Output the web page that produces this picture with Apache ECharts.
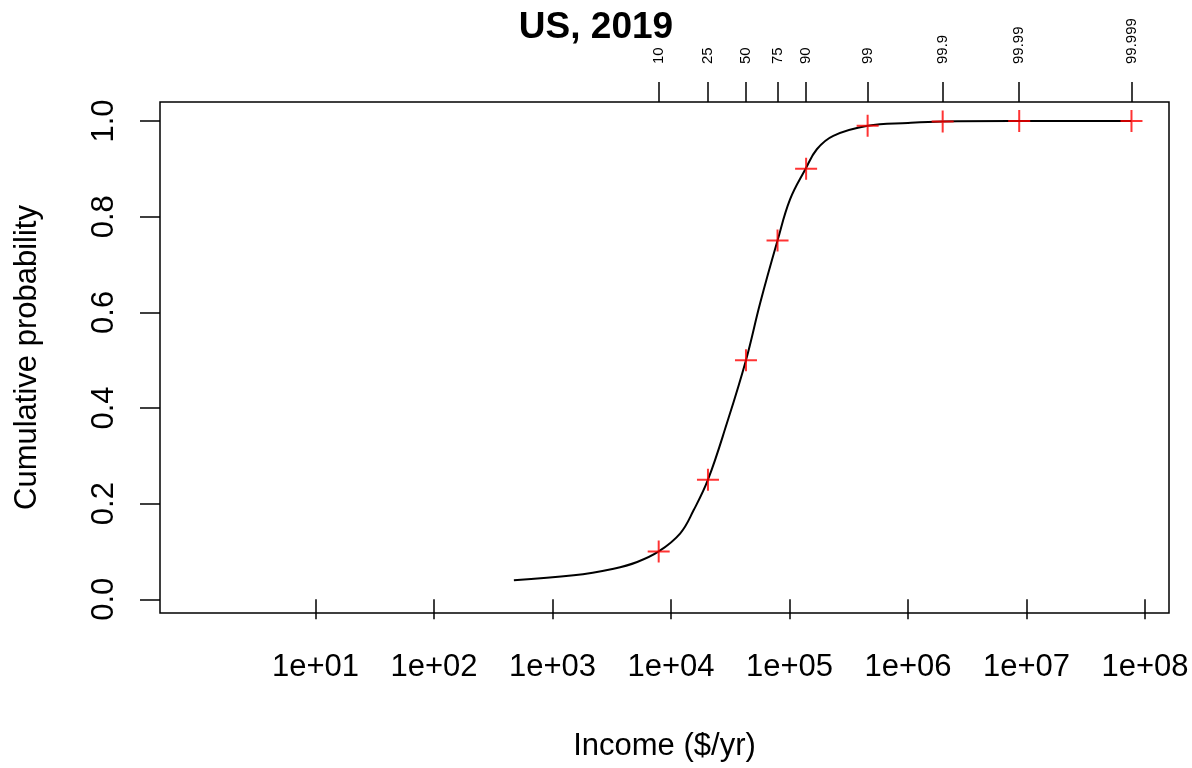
<!DOCTYPE html>
<html>
<head>
<meta charset="utf-8">
<title>US, 2019</title>
<script src="https://cdn.jsdelivr.net/npm/echarts@6/dist/echarts.min.js"></script>
<style>
  html, body { margin: 0; padding: 0; background: #fff; }
  #chart { width: 1192px; height: 768px; }
</style>
</head>
<body>
<div id="chart"></div>
<script>
// Bottom axis: powers of ten
const incomeTicks = [1e1, 1e2, 1e3, 1e4, 1e5, 1e6, 1e7, 1e8];
const probTicks = [0, 0.2, 0.4, 0.6, 0.8, 1.0];

// Percentile markers (top axis + red crosses)
const pctLabels = ['10', '25', '50', '75', '90', '99', '99.9', '99.99', '99.999'];
const quantIncome = [7870, 20500, 42900, 79200, 138000, 456000, 1960000, 8670000, 76800000];
const quantProb = [0.1, 0.25, 0.5, 0.75, 0.9, 0.99, 0.999, 0.9999, 0.99999];

// Fitted CDF curve
const curveIncome = [472, 1510, 3280, 5180, 7870, 11970, 15500, 20500, 29600, 42900,
  56600, 79200, 101000, 136000, 170000, 234000, 456000, 1000000, 1960000, 8670000, 76800000];
const curveProb = [0.040, 0.050, 0.064, 0.078, 0.100, 0.138, 0.186, 0.250, 0.368, 0.500,
  0.620, 0.750, 0.836, 0.899, 0.941, 0.969, 0.990, 0.996, 0.999, 0.9999, 0.99999];

const FONT = 'Liberation Sans, Arial, Helvetica, sans-serif';
const X_MIN = 0.4875;
const X_MAX = 1.592e8;

const chart = echarts.init(document.getElementById('chart'), null, { renderer: 'canvas' });

function expLabel(v) {
  const e = Math.round(Math.log10(v));
  return '1e+' + String(e).padStart(2, '0');
}

function pctLabel(v) {
  // match the tick value back to its percentile label
  let best = 0;
  let bestDiff = Infinity;
  quantIncome.forEach((q, i) => {
    const d = Math.abs(Math.log10(q) - Math.log10(v));
    if (d < bestDiff) { bestDiff = d; best = i; }
  });
  return pctLabels[best];
}

const tickStyle = { color: '#000', width: 1.5 };

const option = {
  animation: false,
  backgroundColor: '#fff',
  textStyle: { fontFamily: FONT, color: '#000' },
  title: {
    text: 'US, 2019',
    left: 'center',
    top: 4,
    textStyle: { fontFamily: FONT, fontSize: 37, fontWeight: 'bold', color: '#000' }
  },
  grid: {
    left: 160, right: 23, top: 102, bottom: 155,
    show: true, borderColor: '#000', borderWidth: 1.5, backgroundColor: 'transparent'
  },
  xAxis: [
    {
      type: 'log',
      logBase: 10,
      position: 'bottom',
      min: X_MIN,
      max: X_MAX,
      name: 'Income ($/yr)',
      nameLocation: 'middle',
      nameGap: 118,
      nameTextStyle: { fontFamily: FONT, fontSize: 31, color: '#000' },
      axisLine: { show: false },
      splitLine: { show: false },
      axisTick: { show: true, length: 20, customValues: incomeTicks, lineStyle: tickStyle },
      axisLabel: {
        customValues: incomeTicks,
        margin: 39,
        fontSize: 31,
        color: '#000',
        fontFamily: FONT,
        formatter: expLabel
      }
    },
    {
      type: 'log',
      logBase: 10,
      position: 'top',
      min: X_MIN,
      max: X_MAX,
      axisLine: { show: false },
      splitLine: { show: false },
      axisTick: { show: true, length: 20, customValues: quantIncome, lineStyle: tickStyle },
      axisLabel: {
        customValues: quantIncome,
        rotate: -90,
        margin: 38,
        fontSize: 15,
        color: '#000',
        fontFamily: FONT,
        formatter: pctLabel
      }
    }
  ],
  yAxis: {
    type: 'value',
    min: -0.0287,
    max: 1.0398,
    name: 'Cumulative probability',
    nameLocation: 'middle',
    nameGap: 117,
    nameRotate: 90,
    nameTextStyle: { fontFamily: FONT, fontSize: 31, color: '#000' },
    axisLine: { show: false },
    splitLine: { show: false },
    axisTick: { show: true, length: 20, customValues: probTicks, lineStyle: tickStyle },
    axisLabel: {
      customValues: probTicks,
      rotate: 90,
      margin: 40,
      fontSize: 31,
      color: '#000',
      fontFamily: FONT,
      formatter: (v) => v.toFixed(1)
    }
  },
  series: [
    {
      name: 'cdf',
      type: 'line',
      xAxisIndex: 0,
      data: curveIncome.map((x, i) => [x, curveProb[i]]),
      showSymbol: false,
      smooth: 0.4,
      lineStyle: { color: '#000', width: 2 },
      z: 2
    },
    {
      name: 'quantiles',
      type: 'scatter',
      xAxisIndex: 0,
      data: quantIncome.map((x, i) => [x, quantProb[i]]),
      symbol: 'path://M0,-10L0,10M-10,0L10,0',
      symbolSize: 22,
      itemStyle: { color: 'rgba(0,0,0,0)', borderColor: '#ff0000', borderWidth: 2 },
      z: 3
    }
  ]
};

chart.setOption(option);
</script>
</body>
</html>
